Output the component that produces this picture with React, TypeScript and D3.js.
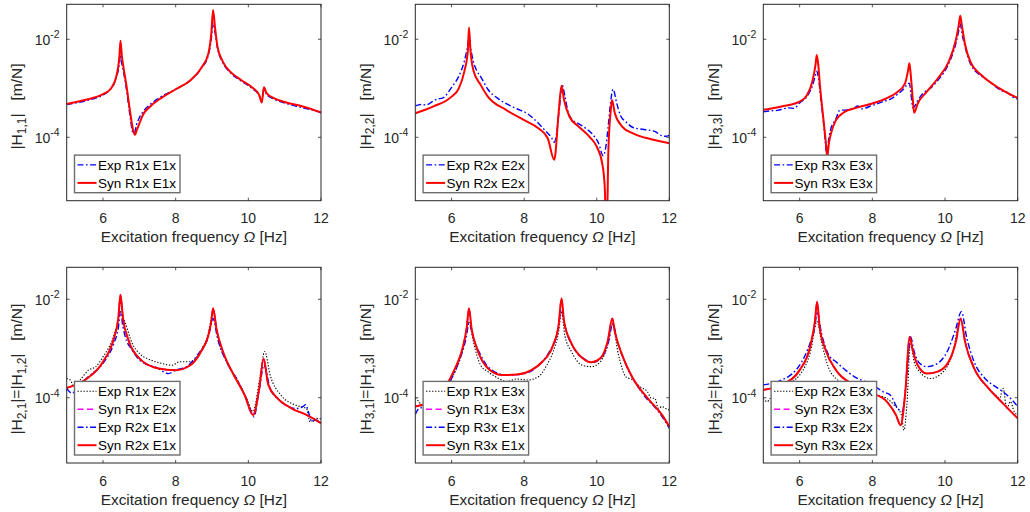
import React from "react";
import * as d3 from "d3";

// Each point: [excitation frequency in Hz, log10 of |H| in m/N]
type Pt = [number, number];

const freqDomain: [number, number] = [5, 12];
const xTicks = [6, 8, 10, 12];
const yTickExps = [-4, -2];

// ---------- top row: driving-point FRFs ----------
const h11Exp: Pt[] = [[5,-3.33],[5.5,-3.26],[5.8,-3.2],[6,-3.14],[6.2,-3.02],[6.35,-2.82],[6.45,-2.5],[6.48,-2.32],[6.52,-2.5],[6.56,-2.65],[6.65,-3.05],[6.74,-3.55],[6.82,-3.9],[6.86,-3.92],[6.92,-3.75],[7,-3.6],[7.1,-3.48],[7.3,-3.33],[7.6,-3.17],[8,-3.02],[8.4,-2.84],[8.7,-2.6],[8.9,-2.32],[8.98,-2.0],[9.03,-1.67],[9.08,-1.85],[9.15,-2.18],[9.3,-2.48],[9.5,-2.68],[9.8,-2.85],[10.1,-3.0],[10.3,-3.15],[10.37,-3.28],[10.43,-3.0],[10.5,-3.12],[10.7,-3.22],[11,-3.3],[11.5,-3.4],[11.8,-3.45],[12,-3.5]];
const h11Syn: Pt[] = [[5,-3.32],[5.5,-3.24],[6,-3.12],[6.2,-3.02],[6.35,-2.8],[6.45,-2.35],[6.48,-2.03],[6.52,-2.35],[6.56,-2.56],[6.65,-2.97],[6.74,-3.45],[6.83,-3.86],[6.88,-3.95],[6.93,-3.85],[7,-3.72],[7.1,-3.54],[7.3,-3.37],[7.6,-3.2],[8,-3.02],[8.4,-2.84],[8.7,-2.59],[8.9,-2.29],[8.98,-1.88],[9.03,-1.4],[9.08,-1.74],[9.15,-2.15],[9.3,-2.46],[9.5,-2.66],[9.8,-2.83],[10.1,-2.98],[10.3,-3.14],[10.37,-3.29],[10.43,-2.98],[10.5,-3.1],[10.7,-3.2],[11,-3.28],[11.5,-3.37],[12,-3.49]];

const h22Exp: Pt[] = [[5,-3.36],[5.15,-3.33],[5.3,-3.34],[5.45,-3.28],[5.6,-3.22],[5.75,-3.2],[6,-2.98],[6.2,-2.75],[6.35,-2.45],[6.45,-2.1],[6.48,-1.95],[6.52,-2.15],[6.6,-2.45],[6.7,-2.65],[6.8,-2.76],[7,-3.02],[7.3,-3.22],[7.6,-3.35],[7.9,-3.45],[8.05,-3.5],[8.2,-3.58],[8.4,-3.72],[8.6,-3.88],[8.75,-4.0],[8.83,-4.1],[8.9,-3.9],[8.97,-3.4],[9.05,-2.94],[9.12,-3.15],[9.2,-3.45],[9.3,-3.62],[9.5,-3.72],[9.7,-3.82],[9.9,-3.95],[10.05,-4.12],[10.18,-4.38],[10.25,-4.2],[10.32,-3.75],[10.38,-3.3],[10.45,-3.02],[10.55,-3.3],[10.65,-3.55],[10.8,-3.68],[11,-3.8],[11.3,-3.84],[11.6,-3.88],[11.8,-3.97],[11.9,-3.98],[12,-3.96]];
const h22Syn: Pt[] = [[5,-3.51],[5.5,-3.37],[6,-3.17],[6.2,-3.0],[6.35,-2.66],[6.45,-2.22],[6.48,-1.76],[6.52,-2.22],[6.6,-2.63],[6.8,-2.93],[7,-3.17],[7.5,-3.44],[8,-3.65],[8.4,-3.82],[8.65,-4.02],[8.83,-4.46],[8.95,-3.5],[9.03,-2.95],[9.1,-3.24],[9.25,-3.58],[9.5,-3.78],[9.8,-3.99],[10,-4.19],[10.15,-4.53],[10.22,-5.0],[10.26,-5.8],[10.28,-5.8],[10.32,-4.3],[10.38,-3.51],[10.42,-3.24],[10.5,-3.51],[10.7,-3.78],[11,-3.92],[11.5,-4.04],[12,-4.12]];

const h33Exp: Pt[] = [[5,-3.48],[5.2,-3.46],[5.4,-3.45],[5.55,-3.42],[5.7,-3.4],[5.85,-3.41],[6,-3.3],[6.2,-3.17],[6.35,-2.95],[6.44,-2.72],[6.47,-2.65],[6.52,-2.8],[6.58,-3.2],[6.65,-3.65],[6.72,-4.2],[6.75,-4.4],[6.79,-4.1],[6.85,-3.85],[7,-3.62],[7.1,-3.45],[7.3,-3.44],[7.5,-3.4],[7.6,-3.36],[7.7,-3.42],[8,-3.35],[8.3,-3.27],[8.5,-3.22],[8.7,-3.12],[8.9,-2.98],[8.98,-2.9],[9.02,-2.9],[9.06,-3.1],[9.12,-3.4],[9.15,-3.38],[9.25,-3.25],[9.4,-3.1],[9.6,-3.0],[9.8,-2.84],[10.1,-2.5],[10.3,-2.08],[10.38,-1.82],[10.42,-1.67],[10.46,-1.85],[10.55,-2.15],[10.7,-2.5],[11,-2.75],[11.2,-2.85],[11.4,-2.97],[11.55,-3.05],[11.7,-3.08],[11.85,-3.17],[12,-3.22]];
const h33Syn: Pt[] = [[5,-3.44],[5.5,-3.37],[6,-3.27],[6.2,-3.14],[6.35,-2.86],[6.44,-2.5],[6.47,-2.32],[6.51,-2.5],[6.56,-2.95],[6.65,-3.6],[6.72,-4.1],[6.76,-4.4],[6.8,-4.15],[6.87,-3.9],[7,-3.65],[7.2,-3.5],[7.6,-3.39],[8,-3.31],[8.4,-3.2],[8.7,-3.07],[8.9,-2.9],[8.98,-2.65],[9.02,-2.49],[9.06,-2.75],[9.11,-3.2],[9.15,-3.5],[9.25,-3.31],[9.5,-3.07],[9.8,-2.8],[10.1,-2.46],[10.3,-2.01],[10.38,-1.7],[10.42,-1.52],[10.46,-1.7],[10.55,-2.1],[10.7,-2.46],[11,-2.73],[11.5,-3.0],[12,-3.2]];

// ---------- bottom row: transfer FRFs ----------
const h12Exp: Pt[] = [[5,-3.61],[5.1,-3.64],[5.2,-3.78],[5.4,-3.61],[5.6,-3.44],[5.8,-3.37],[6,-3.17],[6.3,-2.73],[6.42,-2.39],[6.48,-2.05],[6.55,-2.35],[6.6,-2.45],[6.8,-2.89],[7,-3.1],[7.3,-3.23],[7.6,-3.3],[7.9,-3.34],[8.1,-3.27],[8.4,-3.27],[8.7,-3.03],[8.9,-2.69],[9.04,-2.22],[9.15,-2.73],[9.4,-3.27],[9.7,-3.64],[9.95,-4.01],[10.13,-4.28],[10.3,-3.67],[10.45,-3.06],[10.6,-3.54],[10.9,-3.95],[11.3,-4.15],[11.6,-4.22],[11.7,-4.49],[11.85,-4.42],[12,-4.43]];
const h21Exp: Pt[] = [[5,-3.81],[5.15,-3.91],[5.3,-3.78],[5.6,-3.57],[6,-3.3],[6.3,-2.89],[6.42,-2.59],[6.48,-2.25],[6.55,-2.56],[6.6,-2.73],[6.8,-3.03],[7,-3.23],[7.5,-3.4],[7.8,-3.51],[8,-3.44],[8.3,-3.37],[8.6,-3.13],[8.9,-2.76],[9.03,-2.39],[9.15,-2.79],[9.4,-3.27],[9.7,-3.64],[10,-4.12],[10.15,-4.39],[10.3,-3.84],[10.43,-3.34],[10.6,-3.81],[10.9,-4.08],[11.3,-4.22],[11.5,-4.18],[11.58,-4.14],[11.65,-4.28],[11.75,-4.49],[11.85,-4.45],[12,-4.5]];
const h21Syn: Pt[] = [[5,-3.8],[5.5,-3.64],[6,-3.27],[6.3,-2.79],[6.42,-2.39],[6.48,-1.91],[6.55,-2.39],[6.7,-2.83],[7,-3.2],[7.5,-3.4],[8,-3.44],[8.4,-3.34],[8.7,-3.06],[8.9,-2.73],[8.98,-2.45],[9.03,-2.18],[9.12,-2.59],[9.3,-3.06],[9.6,-3.54],[9.9,-3.95],[10.13,-4.35],[10.3,-3.81],[10.42,-3.21],[10.55,-3.74],[10.8,-4.01],[11.2,-4.22],[11.6,-4.35],[12,-4.52]];
const h12Syn: Pt[] = h21Syn.map((p) => [p[0], p[1]] as Pt); // reciprocal model: identical curve

const h13Exp: Pt[] = [[5,-4.01],[5.1,-4.08],[5.2,-4.18],[5.3,-4.12],[5.5,-4.01],[5.8,-3.88],[6,-3.61],[6.3,-3.06],[6.48,-2.45],[6.6,-2.86],[6.8,-3.34],[7,-3.47],[7.3,-3.61],[7.5,-3.67],[7.8,-3.62],[8.1,-3.64],[8.4,-3.57],[8.6,-3.37],[8.8,-3.06],[8.95,-2.66],[9.03,-2.25],[9.12,-2.73],[9.3,-3.06],[9.6,-3.34],[9.85,-3.37],[10.1,-3.27],[10.3,-2.93],[10.43,-2.52],[10.6,-3.13],[10.8,-3.57],[11,-3.64],[11.2,-3.78],[11.4,-3.88],[11.5,-4.01],[11.6,-4.01],[11.7,-4.22],[11.8,-4.18],[11.9,-4.22],[12,-4.25]];
const h31Exp: Pt[] = [[5,-4.34],[5.1,-4.22],[5.3,-4.18],[5.6,-4.01],[5.9,-3.74],[6.2,-3.27],[6.4,-2.79],[6.48,-2.49],[6.6,-2.79],[6.8,-3.13],[7,-3.37],[7.5,-3.54],[8,-3.51],[8.4,-3.34],[8.7,-3.06],[8.9,-2.73],[9.03,-2.22],[9.15,-2.62],[9.4,-3.03],[9.7,-3.23],[9.9,-3.28],[10.15,-3.17],[10.35,-2.79],[10.43,-2.49],[10.6,-2.93],[10.9,-3.47],[11.3,-3.95],[11.7,-4.28],[12,-4.62]];
const h31Syn: Pt[] = [[5,-4.18],[5.4,-4.08],[5.8,-3.81],[6.1,-3.4],[6.3,-3.0],[6.42,-2.56],[6.48,-2.18],[6.55,-2.59],[6.7,-3.0],[7,-3.4],[7.4,-3.54],[7.8,-3.53],[8.2,-3.44],[8.5,-3.27],[8.8,-2.93],[8.95,-2.52],[9.03,-1.98],[9.1,-2.45],[9.3,-2.89],[9.6,-3.19],[9.85,-3.28],[10.1,-3.2],[10.3,-2.86],[10.43,-2.39],[10.5,-2.66],[10.7,-3.13],[11,-3.61],[11.4,-4.01],[11.8,-4.35],[12,-4.59]];
const h13Syn: Pt[] = h31Syn.map((p) => [p[0], p[1]] as Pt);

const h23Exp: Pt[] = [[5,-4.01],[5.1,-4.08],[5.3,-3.88],[5.5,-3.78],[5.8,-3.67],[6,-3.54],[6.3,-3.06],[6.48,-2.45],[6.6,-2.86],[6.8,-3.4],[7,-3.61],[7.5,-3.78],[8,-3.95],[8.3,-3.98],[8.6,-4.15],[8.8,-4.35],[8.87,-4.66],[8.95,-4.15],[9.05,-2.86],[9.15,-3.27],[9.3,-3.47],[9.6,-3.61],[9.9,-3.51],[10.2,-3.13],[10.43,-2.42],[10.6,-3.0],[10.9,-3.54],[11.2,-3.81],[11.4,-3.95],[11.5,-4.01],[11.6,-3.81],[11.7,-4.22],[11.8,-4.08],[11.9,-4.28],[12,-4.35]];
const h32Exp: Pt[] = [[5,-3.74],[5.5,-3.64],[5.8,-3.51],[6,-3.34],[6.3,-2.86],[6.42,-2.56],[6.48,-2.25],[6.6,-2.69],[6.8,-3.13],[7,-3.27],[7.5,-3.57],[8,-3.74],[8.3,-3.88],[8.5,-3.95],[8.7,-4.22],[8.82,-4.28],[8.95,-3.54],[9.05,-2.76],[9.15,-3.06],[9.3,-3.3],[9.5,-3.37],[9.8,-3.3],[10.1,-3.0],[10.3,-2.59],[10.45,-2.25],[10.6,-2.79],[10.8,-3.27],[11.1,-3.61],[11.4,-3.78],[11.6,-3.88],[11.8,-4.01],[12,-4.18]];
const h32Syn: Pt[] = [[5,-3.84],[5.5,-3.74],[6,-3.44],[6.3,-2.93],[6.42,-2.45],[6.48,-2.05],[6.55,-2.56],[6.7,-3.0],[7,-3.44],[7.5,-3.74],[8,-3.91],[8.4,-4.08],[8.65,-4.35],[8.78,-4.56],[8.9,-3.95],[9.03,-2.76],[9.1,-3.0],[9.25,-3.34],[9.5,-3.51],[9.8,-3.47],[10.1,-3.27],[10.3,-2.86],[10.43,-2.39],[10.55,-2.86],[10.8,-3.4],[11.2,-3.81],[11.6,-4.12],[12,-4.42]];
const h23Syn: Pt[] = h32Syn.map((p) => [p[0], p[1]] as Pt);

// ---------- styling / layout (not data) ----------
type Style = { color: string; width: number; dash?: string };
const EXP_BLUE: Style = { color: "#0000ff", width: 1.4, dash: "6,2.5,1.6,2.5" };
const SYN_RED: Style = { color: "#ff0000", width: 2 };
const EXP_BLACK: Style = { color: "#000000", width: 1.1, dash: "1.3,1.7" };
const SYN_MAG: Style = { color: "#ff00ff", width: 1.4, dash: "6,3.5" };

const COLS = [
  { l: 66.7, r: 321 },
  { l: 415.3, r: 669.3 },
  { l: 763.3, r: 1017.7 },
];
const ROWS = [
  { t: 4.3, b: 200.7, lo: -5.294, hi: -1.286 },
  { t: 267.3, b: 463, lo: -5.327, hi: -1.35 },
];

type Series = { label: string; data: Pt[]; style: Style };
type LabelPart = { t: string; sub?: boolean };
type PanelDef = { row: number; col: number; ylabel: LabelPart[]; series: Series[] };

const unit = "|   [m/N]";
const panels: PanelDef[] = [
  { row: 0, col: 0, ylabel: [{ t: "|H" }, { t: "1,1", sub: true }, { t: unit }],
    series: [{ label: "Exp R1x E1x", data: h11Exp, style: EXP_BLUE }, { label: "Syn R1x E1x", data: h11Syn, style: SYN_RED }] },
  { row: 0, col: 1, ylabel: [{ t: "|H" }, { t: "2,2", sub: true }, { t: unit }],
    series: [{ label: "Exp R2x E2x", data: h22Exp, style: EXP_BLUE }, { label: "Syn R2x E2x", data: h22Syn, style: SYN_RED }] },
  { row: 0, col: 2, ylabel: [{ t: "|H" }, { t: "3,3", sub: true }, { t: unit }],
    series: [{ label: "Exp R3x E3x", data: h33Exp, style: EXP_BLUE }, { label: "Syn R3x E3x", data: h33Syn, style: SYN_RED }] },
  { row: 1, col: 0, ylabel: [{ t: "|H" }, { t: "2,1", sub: true }, { t: "|=|H" }, { t: "1,2", sub: true }, { t: unit }],
    series: [
      { label: "Exp R1x E2x", data: h12Exp, style: EXP_BLACK },
      { label: "Syn R1x E2x", data: h12Syn, style: SYN_MAG },
      { label: "Exp R2x E1x", data: h21Exp, style: EXP_BLUE },
      { label: "Syn R2x E1x", data: h21Syn, style: SYN_RED },
    ] },
  { row: 1, col: 1, ylabel: [{ t: "|H" }, { t: "3,1", sub: true }, { t: "|=|H" }, { t: "1,3", sub: true }, { t: unit }],
    series: [
      { label: "Exp R1x E3x", data: h13Exp, style: EXP_BLACK },
      { label: "Syn R1x E3x", data: h13Syn, style: SYN_MAG },
      { label: "Exp R3x E1x", data: h31Exp, style: EXP_BLUE },
      { label: "Syn R3x E1x", data: h31Syn, style: SYN_RED },
    ] },
  { row: 1, col: 2, ylabel: [{ t: "|H" }, { t: "3,2", sub: true }, { t: "|=|H" }, { t: "2,3", sub: true }, { t: unit }],
    series: [
      { label: "Exp R2x E3x", data: h23Exp, style: EXP_BLACK },
      { label: "Syn R2x E3x", data: h23Syn, style: SYN_MAG },
      { label: "Exp R3x E2x", data: h32Exp, style: EXP_BLUE },
      { label: "Syn R3x E2x", data: h32Syn, style: SYN_RED },
    ] },
];

const FONT = "'Liberation Sans', Arial, Helvetica, sans-serif";
const TXT = "#262626";

function Panel({ p, idx }: { p: PanelDef; idx: number }) {
  const c = COLS[p.col];
  const r = ROWS[p.row];
  const x = d3.scaleLinear().domain(freqDomain).range([c.l, c.r]);
  const y = d3.scaleLog().domain([Math.pow(10, r.lo), Math.pow(10, r.hi)]).range([r.b, r.t]);
  const line = d3
    .line<Pt>()
    .x((d) => x(d[0]))
    .y((d) => y(Math.pow(10, d[1])))
    .curve(d3.curveMonotoneX);
  const clipId = `clip${idx}`;
  const tl = 3;
  const n = p.series.length;
  const rowH = 18;
  const legW = 105.5;
  const legH = rowH * n + 1.6;
  const legX = c.l + 7.8;
  const legY = r.b - 8 - legH;
  const cx = (c.l + c.r) / 2;
  const cy = (r.t + r.b) / 2 + 4;
  return (
    <g>
      <defs>
        <clipPath id={clipId}>
          <rect x={c.l} y={r.t} width={c.r - c.l} height={r.b - r.t} />
        </clipPath>
      </defs>
      <rect x={c.l} y={r.t} width={c.r - c.l} height={r.b - r.t} fill="#fff" />
      <g clipPath={`url(#${clipId})`}>
        {p.series.map((s, i) => (
          <path
            key={i}
            d={line(s.data) || ""}
            fill="none"
            stroke={s.style.color}
            strokeWidth={s.style.width}
            strokeDasharray={s.style.dash}
            strokeLinejoin="round"
          />
        ))}
      </g>
      {/* ticks */}
      {xTicks.map((t) => (
        <g key={"x" + t}>
          <line x1={x(t)} x2={x(t)} y1={r.b} y2={r.b - tl} stroke={TXT} strokeWidth={0.8} />
          <line x1={x(t)} x2={x(t)} y1={r.t} y2={r.t + tl} stroke={TXT} strokeWidth={0.8} />
          <text x={x(t)} y={r.b + 22.5} textAnchor="middle" fontSize={14} fill={TXT} fontFamily={FONT}>
            {t}
          </text>
        </g>
      ))}
      {yTickExps.map((e) => {
        const yy = y(Math.pow(10, e));
        return (
          <g key={"y" + e}>
            <line x1={c.l} x2={c.l + tl} y1={yy} y2={yy} stroke={TXT} strokeWidth={0.8} />
            <line x1={c.r} x2={c.r - tl} y1={yy} y2={yy} stroke={TXT} strokeWidth={0.8} />
            <text x={c.l - 7} y={yy + 5.5} textAnchor="end" fontSize={14} fill={TXT} fontFamily={FONT}>
              <tspan>10</tspan>
              <tspan dy={-6.5} fontSize={10.5}>{String(e)}</tspan>
            </text>
          </g>
        );
      })}
      <rect x={c.l} y={r.t} width={c.r - c.l} height={r.b - r.t} fill="none" stroke={TXT} strokeWidth={1} />
      {/* x label */}
      <text x={cx} y={r.b + 41.5} textAnchor="middle" fontSize={15.4} fill={TXT} fontFamily={FONT}>
        <tspan>Excitation frequency </tspan>
        <tspan fontStyle="italic">Ω</tspan>
        <tspan> [Hz]</tspan>
      </text>
      {/* y label */}
      <text
        transform={`translate(${c.l - 44.5},${cy}) rotate(-90)`}
        textAnchor="middle"
        fontSize={15.5}
        fill={TXT}
        fontFamily={FONT}
        style={{ whiteSpace: "pre" }}
      >
        {p.ylabel.map((part, i) =>
          part.sub ? (
            <tspan key={i} fontSize={12} dy={3.5}>{part.t}</tspan>
          ) : (
            <tspan key={i} dy={i > 0 && p.ylabel[i - 1].sub ? -3.5 : 0}>{part.t}</tspan>
          )
        )}
      </text>
      {/* legend */}
      <rect x={legX} y={legY} width={legW} height={legH} fill="#fff" stroke="#6e6e6e" strokeWidth={1.4} />
      {p.series.map((s, i) => {
        const ry = legY + 0.8 + rowH * i + rowH / 2;
        return (
          <g key={"l" + i}>
            <line
              x1={legX + 3}
              x2={legX + 22}
              y1={ry}
              y2={ry}
              stroke={s.style.color}
              strokeWidth={s.style.width}
              strokeDasharray={s.style.dash}
            />
            <text x={legX + 23.5} y={ry + 4.8} fontSize={13.5} fill="#000" fontFamily={FONT}>
              {s.label}
            </text>
          </g>
        );
      })}
    </g>
  );
}

export default function App() {
  return (
    <svg
      width={1030}
      height={512}
      viewBox="0 0 1030 512"
      style={{ position: "absolute", left: 0, top: 0, background: "#fff" }}
    >
      <rect x={0} y={0} width={1030} height={512} fill="#fff" />
      {panels.map((p, i) => (
        <Panel key={i} p={p} idx={i} />
      ))}
    </svg>
  );
}
